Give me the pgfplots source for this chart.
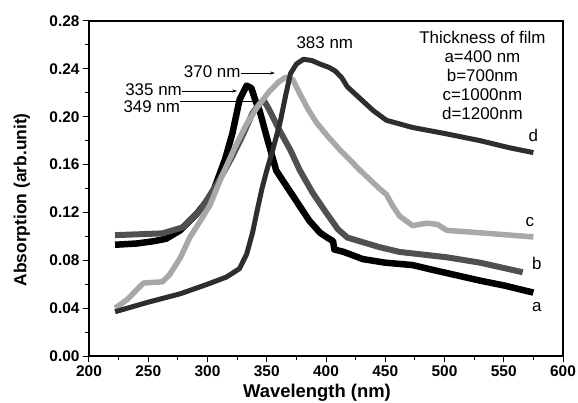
\documentclass[border=0pt]{standalone}
\usepackage{pgfplots}
\pgfplotsset{compat=1.18}
\usepackage{fontspec}
\setmainfont{Liberation Sans}
\usetikzlibrary{arrows.meta}

\definecolor{cA}{HTML}{000000}
\definecolor{cB}{HTML}{505050}
\definecolor{cC}{HTML}{A8A8A8}
\definecolor{cD}{HTML}{2E2E2E}

\newcommand{\txt}{\fontsize{17}{19}\selectfont}

\begin{document}
\begin{tikzpicture}
\useasboundingbox (-89bp,-47bp) rectangle (489bp,356bp);
\begin{axis}[
    at={(0,0)}, anchor=south west,
    scale only axis,
    width=474bp, height=335bp,
    xmin=200, xmax=600,
    ymin=0, ymax=0.28,
    xtick={200,250,...,600},
    ytick={0,0.04,...,0.28},
    minor x tick num=1,
    minor y tick num=1,
    tick align=outside,
    xtick pos=bottom, ytick pos=left,
    major tick length=6bp, minor tick length=4bp,
    axis line style={line width=1.2bp},
    every tick/.style={line width=1bp, black},
    /pgf/number format/assume math mode=true,
    tick label style={font=\fontsize{15.5}{17}\selectfont\bfseries},
    yticklabel style={/pgf/number format/.cd, fixed, fixed zerofill, precision=2},
    xticklabel style={/pgf/number format/.cd, fixed, precision=0},
    xlabel={Wavelength (nm)},
    ylabel={Absorption (arb.unit)},
    xlabel style={font=\fontsize{18.5}{20}\selectfont\bfseries, at={(axis description cs:0.481,-0.110)}, anchor=center},
    ylabel style={font=\fontsize{17.5}{20}\selectfont\bfseries, at={(axis description cs:-0.1414,0.466)}, anchor=center},
    clip=false,
]
% a = 400 nm
\addplot[cA, line width=6.5bp, line join=round] coordinates {
(222,0.093) (240,0.094) (255,0.096) (265,0.098) (277,0.105) (291,0.119) (300,0.130)
(305,0.138) (315,0.165) (321,0.186) (327,0.214) (333,0.226) (337,0.224) (341,0.212)
(344,0.205) (350,0.183) (358,0.155) (372,0.134) (386,0.113) (395,0.103) (401,0.099)
(406,0.096) (407,0.089) (415,0.087) (431,0.081) (450,0.078) (473,0.076) (490,0.072)
(510,0.0675) (530,0.063) (550,0.059) (575,0.053)
};
% b = 700 nm
\addplot[cB, line width=6bp, line join=round] coordinates {
(222,0.101) (262,0.1025) (279,0.1075) (294,0.122) (310,0.147) (320,0.165) (330,0.185)
(338,0.203) (344,0.211) (348,0.213) (352,0.206) (360,0.190) (370,0.172) (378,0.155)
(389,0.136) (400,0.120) (410,0.106) (418,0.099) (445,0.091) (462,0.087) (502,0.0825)
(530,0.078) (566,0.070)
};
% c = 1000 nm
\addplot[cC, line width=5.5bp, line join=round] coordinates {
(222,0.040) (232,0.047) (240,0.055) (246,0.061) (262,0.062) (268,0.068) (277,0.082)
(285,0.099) (294,0.113) (302,0.126) (312,0.150) (322,0.172) (332,0.192) (342,0.208)
(352,0.221) (360,0.229) (366,0.233) (372,0.231) (378,0.219) (385,0.206) (392,0.195)
(402,0.183) (412,0.172) (429,0.155) (445,0.140) (451,0.135) (456,0.126) (462,0.117)
(473,0.109) (485,0.111) (494,0.110) (502,0.105) (530,0.103) (575,0.0995)
};
% d = 1200 nm
\addplot[cD, line width=5bp, line join=round] coordinates {
(222,0.037) (250,0.045) (277,0.052) (300,0.060) (316,0.066) (327,0.073) (333,0.085)
(338,0.103) (342,0.122) (346,0.140) (350,0.155) (355,0.172) (361,0.194) (366,0.218)
(370,0.236) (375,0.244) (381,0.248) (388,0.247) (395,0.244) (403,0.241) (408,0.238)
(413,0.233) (418,0.225) (429,0.215) (440,0.205) (451,0.197) (462,0.194) (473,0.191)
(500,0.186) (530,0.180) (555,0.174) (575,0.170)
};

% curve letters
\node[font=\txt] at (axis cs:578,0.041) {a};
\node[font=\txt] at (axis cs:578,0.077) {b};
\node[font=\txt] at (axis cs:572,0.112) {c};
\node[font=\txt] at (axis cs:575,0.184) {d};

% peak annotations
\node[font=\txt] at (axis cs:399,0.2615) {383 nm};
\node[font=\txt, anchor=east, inner sep=0pt] at (axis cs:328,0.238) {370 nm};
\draw[-{Stealth[length=5bp,width=3bp]}, line width=0.7bp] (axis cs:328,0.2365) -- (axis cs:357,0.2365);
\node[font=\txt, anchor=east, inner sep=0pt] at (axis cs:278.5,0.223) {335 nm};
\draw[-{Stealth[length=5bp,width=3bp]}, line width=0.7bp] (axis cs:278.5,0.2215) -- (axis cs:325,0.2215);
\node[font=\txt, anchor=east, inner sep=0pt] at (axis cs:277,0.208) {349 nm};
\draw[line width=0.7bp] (axis cs:277,0.2125) -- (axis cs:342,0.2125);

% thickness legend
\node[font=\txt, align=center, anchor=north] at (axis cs:532,0.2745) {Thickness of film\\a=400 nm\\b=700nm\\c=1000nm\\d=1200nm};
\end{axis}
\end{tikzpicture}
\end{document}
